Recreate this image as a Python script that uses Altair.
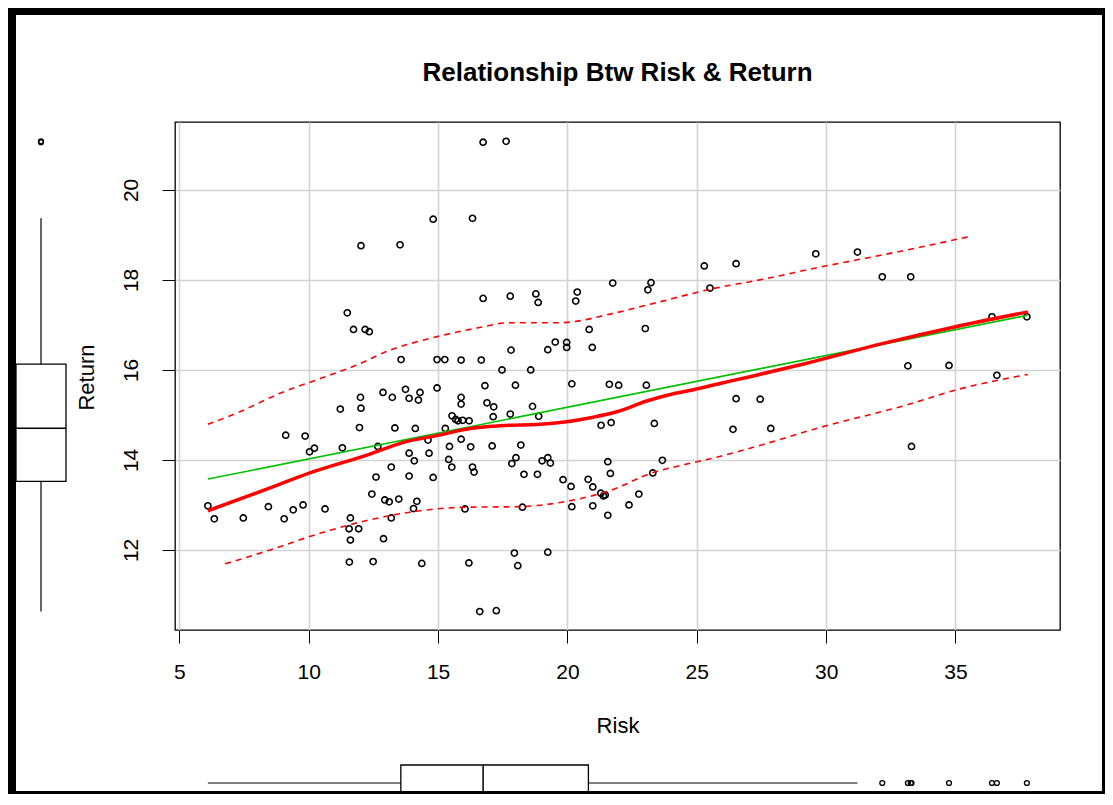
import altair as alt
import pandas as pd

# ---------------- data ----------------
risk = [16.74, 17.63, 16.33, 14.81, 12.02, 13.53, 11.49, 11.73, 12.18, 12.34,
        13.57, 14.96, 15.26, 15.89, 16.67, 17.47, 18.58, 25.29, 26.52, 21.75,
        23.23, 23.11, 25.51, 16.74, 17.79, 18.78, 18.87, 20.38, 20.32, 20.84,
        23.01, 17.82, 19.24, 19.53, 19.97, 19.97, 20.96, 29.60, 31.21, 32.17,
        33.27, 36.41, 37.76, 33.16, 34.75, 36.60, 27.45, 27.86, 33.30, 26.52,
        26.40, 16.81, 17.99, 20.17, 21.62, 21.98, 23.05, 15.89, 15.89, 16.89,
        17.15, 18.65, 17.79, 17.13, 18.89, 15.54, 15.68, 15.77, 15.95, 16.20,
        21.30, 21.69, 23.36, 15.89, 16.26, 17.09, 18.20, 15.44, 15.41, 15.53,
        16.33, 16.39, 17.85, 18.01, 18.32, 18.84, 19.02, 19.24, 19.34, 19.83,
        20.14, 20.80, 20.98, 21.56, 21.66, 23.67, 23.30, 21.29, 21.39, 21.46,
        22.76, 16.04, 18.26, 20.17, 20.98, 22.38, 21.56, 17.95, 19.24, 16.19,
        18.08, 16.61, 17.25, 14.96, 13.74, 12.87, 13.23, 13.88, 14.30, 14.24,
        12.00, 12.02, 11.22, 11.96, 13.33, 14.12, 15.28, 9.11, 9.86, 10.03,
        10.22, 11.30, 12.67, 14.61, 13.88, 14.65, 14.08, 13.19, 12.60, 13.88,
        14.81, 6.10, 6.35, 7.47, 8.44, 9.05, 9.40, 9.78, 10.63, 12.44,
        12.94, 13.11, 13.48, 14.18, 14.05, 11.61, 11.56, 11.93, 11.61, 13.19,
        12.89, 11.57, 12.49, 14.37]

ret = [21.06, 21.08, 19.37, 19.35, 18.76, 18.78, 17.27, 16.90, 16.90, 16.85,
       16.23, 16.23, 16.23, 16.22, 16.22, 16.00, 16.00, 18.31, 18.36, 17.93,
       17.94, 17.78, 17.82, 17.59, 17.64, 17.69, 17.50, 17.73, 17.53, 16.90,
       16.92, 16.44, 16.45, 16.62, 16.61, 16.50, 16.50, 18.58, 18.62, 18.07,
       18.07, 17.18, 17.18, 16.09, 16.10, 15.88, 15.35, 14.70, 14.30, 15.36,
       14.68, 15.65, 15.66, 15.69, 15.68, 15.66, 15.66, 15.39, 15.24, 15.27,
       15.18, 15.19, 15.02, 14.96, 14.97, 14.98, 14.90, 14.87, 14.88, 14.87,
       14.77, 14.83, 14.81, 14.46, 14.29, 14.31, 14.33, 14.30, 14.01, 13.84,
       13.84, 13.73, 13.92, 14.05, 13.68, 13.68, 13.98, 14.05, 13.93, 13.56,
       13.41, 13.57, 13.40, 13.96, 13.70, 13.99, 13.71, 13.26, 13.20, 13.22,
       13.24, 12.91, 12.95, 12.96, 12.98, 13.00, 12.77, 11.93, 11.95, 11.71,
       11.65, 10.63, 10.65, 15.60, 15.57, 15.50, 15.39, 15.37, 15.50, 15.33,
       15.39, 15.15, 15.13, 14.72, 14.71, 14.70, 14.70, 14.55, 14.53, 14.18,
       14.26, 14.27, 14.30, 14.44, 14.15, 14.15, 13.98, 13.84, 13.62, 13.64,
       13.61, 12.98, 12.69, 12.71, 12.96, 12.69, 12.89, 13.00, 12.91, 13.24,
       13.11, 13.07, 13.13, 13.08, 12.92, 12.71, 12.47, 12.47, 12.22, 12.71,
       12.25, 11.73, 11.74, 11.70]

# smoother (solid red) and spread lines (dashed red)
loess_x = [6.10, 8.51, 9.99, 12.37, 13.66, 14.95, 16.24, 17.40, 18.95, 19.97, 21.00,
           21.91, 23.07, 24.10, 24.87, 25.90, 27.06, 29.25, 32.21, 34.92, 37.80]
loess_y = [12.87, 13.38, 13.70, 14.13, 14.39, 14.54, 14.70, 14.76, 14.79, 14.85, 14.95,
           15.07, 15.31, 15.47, 15.56, 15.70, 15.85, 16.15, 16.59, 16.95, 17.29]
upper_x = [6.10, 7.22, 8.89, 10.50, 11.86, 13.14, 14.69, 16.50, 17.78, 19.72, 21.65,
           23.20, 25.90, 27.06, 29.89, 32.47, 35.60]
upper_y = [14.79, 15.04, 15.48, 15.82, 16.11, 16.44, 16.70, 16.93, 17.05, 17.05, 17.24,
           17.46, 17.84, 17.96, 18.30, 18.59, 18.97]
lower_x = [6.77, 8.51, 10.44, 12.37, 14.30, 16.11, 18.04, 19.97, 21.65, 23.32, 24.48,
           25.77, 27.06, 29.89, 33.11, 35.05, 37.80]
lower_y = [11.69, 12.00, 12.37, 12.67, 12.87, 12.95, 12.96, 13.08, 13.32, 13.72, 13.89,
           14.06, 14.26, 14.74, 15.22, 15.56, 15.90]

TITLE = "Relationship Btw Risk & Return"
X_TITLE = "Risk"
Y_TITLE = "Return"
X_TICKS = [5, 10, 15, 20, 25, 30, 35]
Y_TICKS = [12, 14, 16, 18, 20]
X_DOMAIN = [4.83, 39.04]
Y_DOMAIN = [10.22, 21.51]

# ---------------- chart ----------------
FONT = "Liberation Sans"
W, H = 885, 508

df = pd.DataFrame({"Risk": risk, "Return": ret})
loess_df = pd.DataFrame({"Risk": loess_x, "Return": loess_y})
upper_df = pd.DataFrame({"Risk": upper_x, "Return": upper_y})
lower_df = pd.DataFrame({"Risk": lower_x, "Return": lower_y})
one = pd.DataFrame({"t": [TITLE]})

xs = alt.Scale(domain=X_DOMAIN, nice=False, zero=False)
ys = alt.Scale(domain=Y_DOMAIN, nice=False, zero=False)

x_axis = alt.Axis(values=X_TICKS, title=X_TITLE, grid=True, gridColor="#d3d3d3", gridWidth=1.6,
                  domain=False, tickColor="black", tickSize=13, tickWidth=1,
                  labelFont=FONT, labelFontSize=21, labelColor="black",
                  labelBaseline="alphabetic", labelPadding=35, labelFlush=False, labelOverlap=False,
                  titleFont=FONT, titleFontSize=22, titleFontWeight="normal", titleColor="black",
                  titleX=W / 2, titleY=102, titleAlign="center", titleBaseline="alphabetic")
y_axis = alt.Axis(values=Y_TICKS, title=Y_TITLE, grid=True, gridColor="#d3d3d3", gridWidth=1.6,
                  domain=False, tickColor="black", tickSize=13, tickWidth=1,
                  labelFont=FONT, labelFontSize=21, labelColor="black", labelAngle=270,
                  labelAlign="center", labelBaseline="alphabetic", labelPadding=25,
                  labelFlush=False, labelOverlap=False,
                  titleFont=FONT, titleFontSize=22, titleFontWeight="normal", titleColor="black",
                  titleAngle=270, titleX=-82, titleY=255, titleAlign="center",
                  titleBaseline="alphabetic")


def X(field):
    return alt.X(field, scale=xs, axis=x_axis, title=X_TITLE)


def Y(field):
    return alt.Y(field, scale=ys, axis=y_axis, title=Y_TITLE)


points = alt.Chart(df).mark_point(shape="circle", filled=False, color="black", size=38,
                                  strokeWidth=1.6, opacity=1).encode(
    x=X("Risk:Q"), y=Y("Return:Q"))

reg = alt.Chart(df).transform_regression("Risk", "Return").mark_line(
    color="#00c000", strokeWidth=1.6).encode(x=X("Risk:Q"), y=Y("Return:Q"))

smooth = alt.Chart(loess_df).mark_line(color="#ff0000", strokeWidth=3.5,
                                       interpolate="monotone").encode(
    x=X("Risk:Q"), y=Y("Return:Q"))
upper = alt.Chart(upper_df).mark_line(color="#ff0000", strokeWidth=1.6, strokeDash=[6, 5],
                                      interpolate="monotone").encode(
    x=X("Risk:Q"), y=Y("Return:Q"))
lower = alt.Chart(lower_df).mark_line(color="#ff0000", strokeWidth=1.6, strokeDash=[6, 5],
                                      interpolate="monotone").encode(
    x=X("Risk:Q"), y=Y("Return:Q"))

# ---- marginal boxplot for Risk (bottom) ----
BY0, BY1, BYC = 643, 670, 661
xb = alt.Chart(df)
x_fence = xb.transform_joinaggregate(xq1="q1(Risk)", xq3="q3(Risk)").transform_calculate(
    xlo="datum.xq1 - 1.5*(datum.xq3 - datum.xq1)", xhi="datum.xq3 + 1.5*(datum.xq3 - datum.xq1)")
x_whisk = x_fence.transform_filter("datum.Risk >= datum.xlo && datum.Risk <= datum.xhi").transform_aggregate(
    xwmin="min(Risk)", xwmax="max(Risk)").mark_rule(color="black", strokeWidth=1.2).encode(
    x=X("xwmin:Q"), x2="xwmax:Q", y=alt.value(BYC))
x_out = x_fence.transform_filter("datum.Risk < datum.xlo || datum.Risk > datum.xhi").mark_point(
    shape="circle", filled=False, color="black", size=24, strokeWidth=1.3, opacity=1).encode(
    x=X("Risk:Q"), y=alt.value(BYC))
x_stats = xb.transform_aggregate(xbq1="q1(Risk)", xbq3="q3(Risk)", xbmed="median(Risk)")
x_box = x_stats.mark_rect(fill="white", stroke="black", strokeWidth=1.3).encode(
    x=X("xbq1:Q"), x2="xbq3:Q", y=alt.value(BY0), y2=alt.value(BY1))
x_med = x_stats.mark_rule(color="black", strokeWidth=1.5).encode(
    x=X("xbmed:Q"), y=alt.value(BY0), y2=alt.value(BY1))

# ---- marginal boxplot for Return (left) ----
LX0, LX1, LXC = -159, -109, -134
yb = alt.Chart(df)
y_fence = yb.transform_joinaggregate(yq1="q1(Return)", yq3="q3(Return)").transform_calculate(
    ylo="datum.yq1 - 1.5*(datum.yq3 - datum.yq1)", yhi="datum.yq3 + 1.5*(datum.yq3 - datum.yq1)")
y_whisk = y_fence.transform_filter("datum.Return >= datum.ylo && datum.Return <= datum.yhi").transform_aggregate(
    ywmin="min(Return)", ywmax="max(Return)").mark_rule(color="black", strokeWidth=1.2).encode(
    y=Y("ywmin:Q"), y2="ywmax:Q", x=alt.value(LXC))
y_out = y_fence.transform_filter("datum.Return < datum.ylo || datum.Return > datum.yhi").mark_point(
    shape="circle", filled=False, color="black", size=24, strokeWidth=1.3, opacity=1).encode(
    y=Y("Return:Q"), x=alt.value(LXC))
y_stats = yb.transform_aggregate(ybq1="q1(Return)", ybq3="q3(Return)", ybmed="median(Return)")
y_box = y_stats.mark_rect(fill="white", stroke="black", strokeWidth=1.3).encode(
    y=Y("ybq1:Q"), y2="ybq3:Q", x=alt.value(LX0), x2=alt.value(LX1))
y_med = y_stats.mark_rule(color="black", strokeWidth=1.5).encode(
    y=Y("ybmed:Q"), x=alt.value(LX0), x2=alt.value(LX1))

# ---- title and window frame ----
title = alt.Chart(one).mark_text(font=FONT, fontSize=26, fontWeight="bold", color="black",
                                 align="center", baseline="alphabetic").encode(
    text="t:N", x=alt.value(W / 2), y=alt.value(-41))


def bar(x0, x1, y0, y1):
    return alt.Chart(one).mark_rect(color="black").encode(
        x=alt.value(x0), x2=alt.value(x1), y=alt.value(y0), y2=alt.value(y1))


frame = [bar(-167, -159, -114, 672), bar(-167, 930, -114, -107),
         bar(927, 930, -114, 672), bar(-167, 930, 669, 672)]

chart = alt.layer(
    points, reg, smooth, upper, lower,
    x_whisk, x_box, x_med, x_out,
    y_whisk, y_box, y_med, y_out,
    title, *frame,
).properties(
    width=W, height=H,
    autosize=alt.AutoSizeParams(type="none"),
    padding={"left": 167, "top": 114, "right": 45, "bottom": 164},
).configure(
    background="white"
).configure_view(
    stroke="black", strokeWidth=1.3
)

chart.save("out.html", embed_options={"renderer": "svg", "actions": False})
